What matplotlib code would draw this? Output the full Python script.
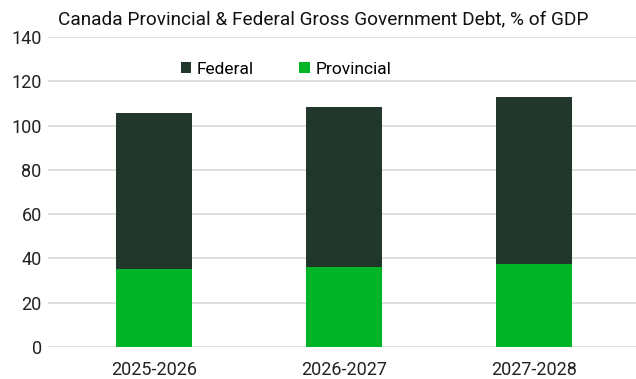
import numpy as np
import matplotlib.pyplot as plt

plt.rcParams['font.family'] = ['Roboto', 'DejaVu Sans']

# Gross government debt as % of GDP
years = ['2025-2026', '2026-2027', '2027-2028']
provincial = [35.1, 36.1, 37.3]
federal = [70.4, 72.4, 75.7]

fed_color = '#22372b'
prov_color = '#00b427'

fig = plt.figure(figsize=(6.36, 3.79), dpi=100)
ax = fig.add_axes([48 / 636, 1 - 347 / 379, 588 / 636, 310 / 379])

x = np.arange(len(years))
ax.bar(x, provincial, width=0.4, color=prov_color, label='Provincial', zorder=3)
ax.bar(x, federal, width=0.4, bottom=provincial, color=fed_color, label='Federal', zorder=3)

ax.set_ylim(0, 140)
ax.set_yticks(np.arange(0, 141, 20))
ax.set_xlim(-0.558, 2.537)
ax.set_xticks(x)
ax.set_xticklabels(years)
ax.grid(axis='y', color='#d9d9d9', linewidth=1.2, zorder=0)
for s in ax.spines.values():
    s.set_visible(False)
ax.tick_params(length=0, labelsize=13, colors='#222222')
ax.tick_params(axis='y', pad=4.5)
ax.tick_params(axis='x', pad=10)

handles, labels = ax.get_legend_handles_labels()
ax.legend(handles[::-1], labels[::-1], loc='upper center', bbox_to_anchor=(0.405, 0.97),
          ncol=2, frameon=False, fontsize=12.5, handlelength=0.6, handleheight=0.6,
          handletextpad=0.35, columnspacing=2.6)

fig.text(58 / 636, 1 - 19 / 379, 'Canada Provincial & Federal Gross Government Debt, % of GDP',
         fontsize=13.7, color='#111111', va='center', ha='left')

fig.savefig('out.png', dpi=100)
